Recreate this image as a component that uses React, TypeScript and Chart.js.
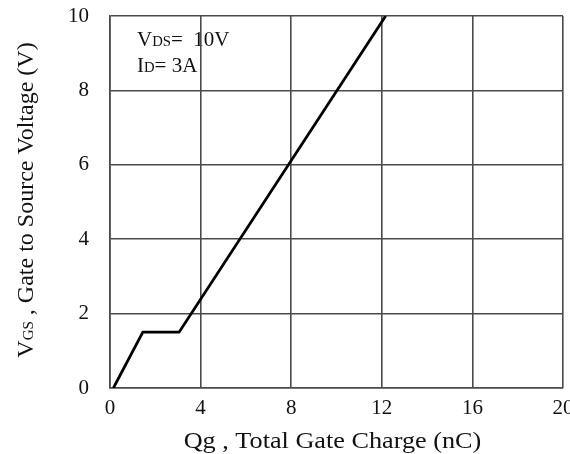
import React, { useEffect, useRef } from "react";
import { Chart, registerables } from "chart.js";

Chart.register(...registerables);

const qgValues = [0.15, 1.45, 3.05, 12.17];
const vgsValues = [0, 1.5, 1.5, 10];
const xTickValues = [0, 4, 8, 12, 16, 20];
const yTickValues = [0, 2, 4, 6, 8, 10];

const FONT = "'Liberation Serif', 'Times New Roman', serif";

type Seg = { text: string; size: number };

function drawRich(ctx: CanvasRenderingContext2D, segs: Seg[], x: number, y: number, align: "left" | "center", sx = 1) {
  ctx.save();
  ctx.translate(x, y);
  ctx.scale(sx, 1);
  ctx.textBaseline = "alphabetic";
  ctx.textAlign = "left";
  let total = 0;
  for (const s of segs) {
    ctx.font = `${s.size}px ${FONT}`;
    total += ctx.measureText(s.text).width;
  }
  let cx = align === "center" ? -total / 2 : 0;
  for (const s of segs) {
    ctx.font = `${s.size}px ${FONT}`;
    ctx.fillText(s.text, cx, 0);
    cx += ctx.measureText(s.text).width;
  }
  ctx.restore();
}

const textPlugin = {
  id: "richText",
  beforeDraw(chart: any) {
    const ctx = chart.ctx as CanvasRenderingContext2D;
    ctx.save();
    ctx.fillStyle = "#fff";
    ctx.fillRect(0, 0, chart.width, chart.height);
    ctx.fillStyle = "#111";
    drawRich(ctx, [
      { text: "V", size: 20 },
      { text: "DS", size: 14 },
      { text: "=  10V", size: 20 },
    ], 137, 46, "left", 1.05);
    drawRich(ctx, [
      { text: "I", size: 20 },
      { text: "D", size: 14 },
      { text: "= 3A", size: 20 },
    ], 137, 72, "left", 1.05);
    ctx.restore();
  },
  afterDraw(chart: any) {
    const ctx = chart.ctx as CanvasRenderingContext2D;
    const area = chart.chartArea;
    ctx.save();
    ctx.fillStyle = "#111";
    drawRich(ctx, [
      { text: "Qg , Total Gate Charge (nC)", size: 23 },
    ], (area.left + area.right) / 2 - 4, 448, "center", 1.14);
    ctx.save();
    ctx.translate(33, 200);
    ctx.rotate(-Math.PI / 2);
    drawRich(ctx, [
      { text: "V", size: 24 },
      { text: "GS", size: 15 },
      { text: " , Gate to Source Voltage (V)", size: 24 },
    ], 0, 0, "center");
    ctx.restore();
    ctx.restore();
  },
};

export default function App() {
  const ref = useRef<HTMLCanvasElement>(null);
  useEffect(() => {
    document.body.style.margin = "0";
    const gridColor = "#4a4a4a";
    const chart = new Chart(ref.current!, {
      type: "scatter",
      data: {
        datasets: [
          {
            data: qgValues.map((x, i) => ({ x, y: vgsValues[i] })),
            showLine: true,
            borderColor: "#000",
            borderWidth: 2.8,
            pointRadius: 0,
            fill: false,
          },
        ],
      },
      options: {
        animation: false,
        responsive: false,
        devicePixelRatio: 1,
        layout: { padding: { top: 16, right: 7, left: 0, bottom: 0 } },
        plugins: { legend: { display: false }, tooltip: { enabled: false } },
        scales: {
          x: {
            type: "linear",
            min: 0,
            max: 20,
            afterBuildTicks: (s: any) => {
              s.ticks = xTickValues.map((v) => ({ value: v }));
            },
            afterFit: (s: any) => {
              s.height = 66;
              s.paddingLeft = 0;
              s.paddingRight = 0;
            },
            grid: { color: gridColor, lineWidth: 1.6, drawTicks: false },
            border: { display: true, color: gridColor, width: 1.6 },
            ticks: {
              color: "#111",
              font: { family: FONT, size: 21 },
              padding: 8,
              maxRotation: 0,
              autoSkip: false,
            },
          },
          y: {
            type: "linear",
            min: 0,
            max: 10,
            afterBuildTicks: (s: any) => {
              s.ticks = yTickValues.map((v) => ({ value: v }));
            },
            afterFit: (s: any) => {
              s.width = 110;
              s.paddingTop = 0;
              s.paddingBottom = 0;
            },
            grid: { color: gridColor, lineWidth: 1.6, drawTicks: false },
            border: { display: true, color: gridColor, width: 1.6 },
            ticks: {
              color: "#111",
              font: { family: FONT, size: 21 },
              padding: 21,
              autoSkip: false,
            },
          },
        },
      },
      plugins: [textPlugin],
    });
    return () => chart.destroy();
  }, []);
  return (
    <div style={{ position: "relative", width: 570, height: 454 }}>
      <canvas ref={ref} width={570} height={454} style={{ width: 570, height: 454, display: "block" }} />
    </div>
  );
}
